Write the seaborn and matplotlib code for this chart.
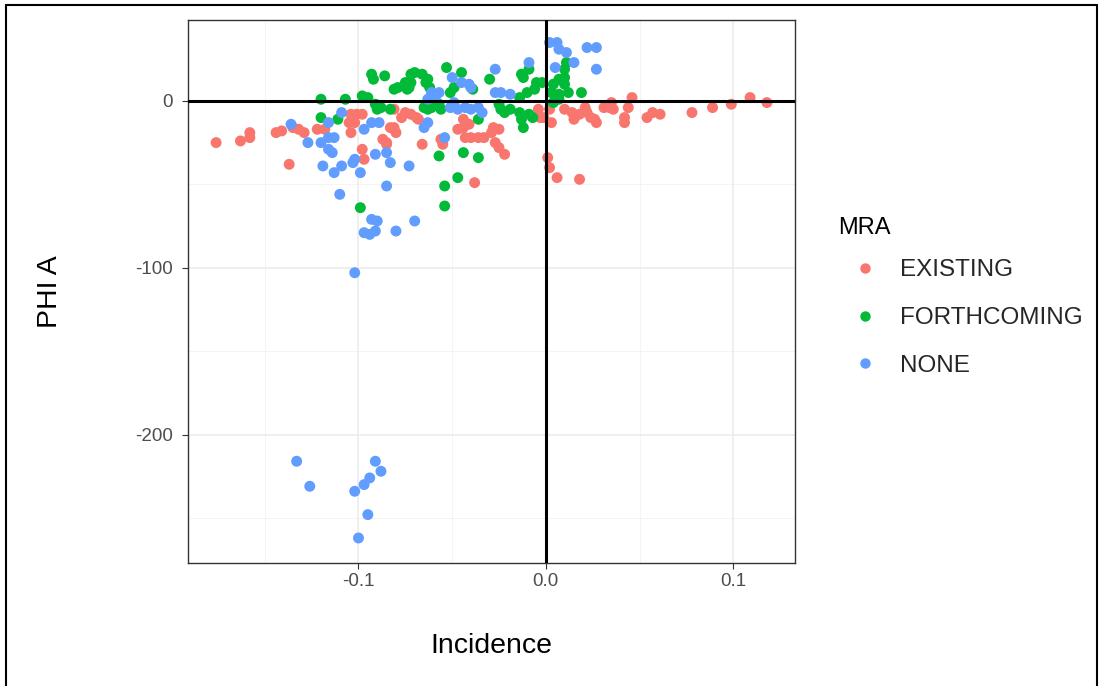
import numpy as np
import pandas as pd
import matplotlib
matplotlib.use("Agg")
import matplotlib.pyplot as plt
from matplotlib.lines import Line2D
import seaborn as sns

# ---- data ----
existing_x = [-0.176, -0.163, -0.158, -0.158, -0.144, -0.141, -0.137, -0.135, -0.132, -0.129,
              -0.122, -0.118, -0.105, -0.104, -0.101, -0.104, -0.102, -0.098, -0.097, -0.085,
              -0.083, -0.081, -0.098, -0.081, -0.077, -0.075, -0.072, -0.069, -0.068, -0.080,
              -0.087, -0.085, -0.066, -0.056, -0.055, -0.047, -0.044, -0.043, -0.040, -0.036,
              -0.033, -0.029, -0.028, -0.025, -0.027, -0.025, -0.022, -0.038, -0.041, -0.044,
              -0.004, -0.003, -0.001, 0.002, 0.003, 0.001, 0.002, 0.006, 0.018, 0.010,
              0.014, 0.015, 0.018, 0.022, 0.024, 0.026, 0.027, 0.021, 0.031, 0.034,
              0.036, 0.035, 0.042, 0.042, 0.044, 0.046, 0.054, 0.057, 0.061, 0.078,
              0.089, 0.099, 0.109, 0.118]
existing_y = [-25, -24, -19, -22, -19, -18, -38, -16, -17, -19,
              -17, -17, -13, -8, -8, -19, -13, -29, -35, -25,
              -16, -16, -8, -5, -10, -7, -8, -10, -11, -19,
              -23, -26, -26, -23, -26, -17, -16, -22, -22, -22,
              -22, -19, -16, -17, -25, -28, -32, -49, -14, -11,
              -5, -10, -10, -5, -13, -34, -40, -46, -47, -5,
              -7, -11, -8, -7, -10, -11, -13, -4, -4, -4,
              -5, -1, -10, -13, -4, 2, -10, -7, -8, -7,
              -4, -2, 2, -1]

forthcoming_x = [-0.120, -0.107, -0.098, -0.095, -0.093, -0.092, -0.086, -0.081, -0.090, -0.088,
                 -0.083, -0.120, -0.111, -0.099, -0.070, -0.066, -0.072, -0.074, -0.064, -0.062,
                 -0.053, -0.091, -0.065, -0.061, -0.057, -0.079, -0.075, -0.073, -0.063, -0.056,
                 -0.051, -0.049, -0.045, -0.039, -0.030, -0.013, -0.009, -0.005, -0.010, -0.006,
                 -0.014, -0.012, -0.025, -0.022, -0.019, -0.014, -0.013, -0.012, -0.009, -0.024,
                 -0.007, -0.036, -0.057, -0.044, -0.036, -0.047, -0.054, -0.054, 0.011, 0.010,
                 0.010, 0.007, 0.004, 0.010, 0.012, 0.003, 0.007, 0.004, 0.019, -0.002,
                 0.007, -0.072, -0.063]
forthcoming_y = [1, 1, 3, 2, 16, 13, 15, 7, -5, -4,
                 -5, -10, -11, -64, 17, 16, 11, 7, 11, 8,
                 20, -2, -4, -4, -2, 8, 11, 8, -5, -5,
                 5, 8, 17, 7, 13, 16, 19, 11, 5, 7,
                 2, 14, -2, -7, -5, -7, -11, -16, -8, -5,
                 -10, -11, -33, -31, -34, -46, -51, -63, 23, 19,
                 14, 13, 10, 10, 5, 5, 4, -1, 5, 11,
                 1, 16, 13]

none_x = [-0.136, -0.127, -0.120, -0.116, -0.113, -0.116, -0.114, -0.113, -0.119, -0.109,
          -0.103, -0.099, -0.110, -0.109, -0.116, -0.097, -0.093, -0.089, -0.102, -0.091,
          -0.085, -0.083, -0.073, -0.085, -0.093, -0.090, -0.097, -0.094, -0.091, -0.080,
          -0.070, -0.102, -0.063, -0.065, -0.061, -0.057, -0.050, -0.049, -0.051, -0.054,
          -0.059, -0.063, -0.045, -0.041, -0.040, -0.027, -0.027, -0.024, -0.019, -0.047,
          -0.043, -0.040, -0.036, -0.034, -0.009, 0.002, 0.006, 0.007, 0.011, 0.005,
          0.015, 0.022, 0.027, 0.027, -0.133, -0.126, -0.102, -0.097, -0.094, -0.091,
          -0.088, -0.095, -0.100]
none_y = [-14, -25, -25, -22, -22, -29, -31, -43, -39, -39,
          -37, -43, -56, -7, -13, -17, -13, -13, -35, -32,
          -31, -37, -39, -51, -71, -72, -79, -80, -78, -78,
          -72, -103, -13, -16, 5, 5, 14, -1, -4, -22,
          2, 1, 11, 10, 8, 19, 5, 5, 4, -5,
          -4, -5, -4, -7, 23, 35, 35, 31, 29, 20,
          23, 32, 32, 19, -216, -231, -234, -230, -226, -216,
          -222, -248, -262]

groups = ["EXISTING", "FORTHCOMING", "NONE"]
colors = ["#F8766D", "#00BA38", "#619CFF"]
x_ticks = [-0.1, 0.0, 0.1]
x_tick_labels = ["-0.1", "0.0", "0.1"]
y_ticks = [-200, -100, 0]
y_tick_labels = ["-200", "-100", "0"]

df = pd.concat([
    pd.DataFrame({"Incidence": existing_x, "PHI A": existing_y, "MRA": "EXISTING"}),
    pd.DataFrame({"Incidence": forthcoming_x, "PHI A": forthcoming_y, "MRA": "FORTHCOMING"}),
    pd.DataFrame({"Incidence": none_x, "PHI A": none_y, "MRA": "NONE"}),
], ignore_index=True)

sns.set_theme(style="white")
plt.rcParams["font.family"] = ["Liberation Sans", "DejaVu Sans"]

fig = plt.figure(figsize=(11.04, 6.86), dpi=100)
ax = fig.add_axes([188 / 1104, 1 - 563 / 686, (795 - 188) / 1104, (563 - 20) / 686])

# grid
for v in [-0.15, -0.05, 0.05]:
    ax.axvline(v, color="#F2F2F2", lw=0.6, zorder=0)
for v in [-250, -150, -50]:
    ax.axhline(v, color="#F2F2F2", lw=0.6, zorder=0)
for v in x_ticks:
    ax.axvline(v, color="#EBEBEB", lw=1.1, zorder=0)
for v in y_ticks:
    ax.axhline(v, color="#EBEBEB", lw=1.1, zorder=0)

sns.scatterplot(data=df, x="Incidence", y="PHI A", hue="MRA", hue_order=groups,
                palette=colors, s=62, linewidth=0, alpha=1, ax=ax, zorder=3, legend=False)

ax.axhline(0, color="black", lw=2.2, zorder=4)
ax.axvline(0, color="black", lw=2.2, zorder=4)

ax.set_xlim(-0.191, 0.133)
ax.set_ylim(-277, 48.5)
ax.set_xticks(x_ticks)
ax.set_xticklabels(x_tick_labels)
ax.set_yticks(y_ticks)
ax.set_yticklabels(y_tick_labels)
ax.tick_params(axis="both", which="major", length=4, width=0.8, color="#333333",
               labelsize=13.5, labelcolor="#4D4D4D", direction="out")
ax.tick_params(axis="x", pad=3)
ax.tick_params(axis="y", pad=7)
ax.tick_params(bottom=True, left=True)
for sp in ax.spines.values():
    sp.set_color("#333333")
    sp.set_linewidth(1.0)
ax.set_xlabel("Incidence", fontsize=20.5, color="black", labelpad=31)
ax.set_ylabel("PHI A", fontsize=20.5, color="black", labelpad=52)

handles = [Line2D([0], [0], marker="o", linestyle="", markersize=7.5,
                  markerfacecolor=c, markeredgewidth=0) for c in colors]
leg = fig.legend(handles, groups, loc="center left",
                 bbox_to_anchor=(836 / 1104, 1 - 318 / 686), frameon=False,
                 fontsize=17.5, labelspacing=1.05,
                 handletextpad=0.62, handlelength=1.6, borderaxespad=0)
fig.text(838 / 1104, 1 - 228 / 686, "MRA", fontsize=17, ha="left", va="center",
         color="black")

# outer screenshot frame
fig.add_artist(Line2D([6 / 1104, 6 / 1104], [0, 1 - 5 / 686], color="black", lw=1.5,
                      transform=fig.transFigure))
fig.add_artist(Line2D([6 / 1104, 1097 / 1104], [1 - 5 / 686, 1 - 5 / 686], color="black",
                      lw=1.5, transform=fig.transFigure))
fig.add_artist(Line2D([1097 / 1104, 1097 / 1104], [0, 1 - 5 / 686], color="black", lw=1.5,
                      transform=fig.transFigure))

fig.savefig("out.png", dpi=100, facecolor="white")
